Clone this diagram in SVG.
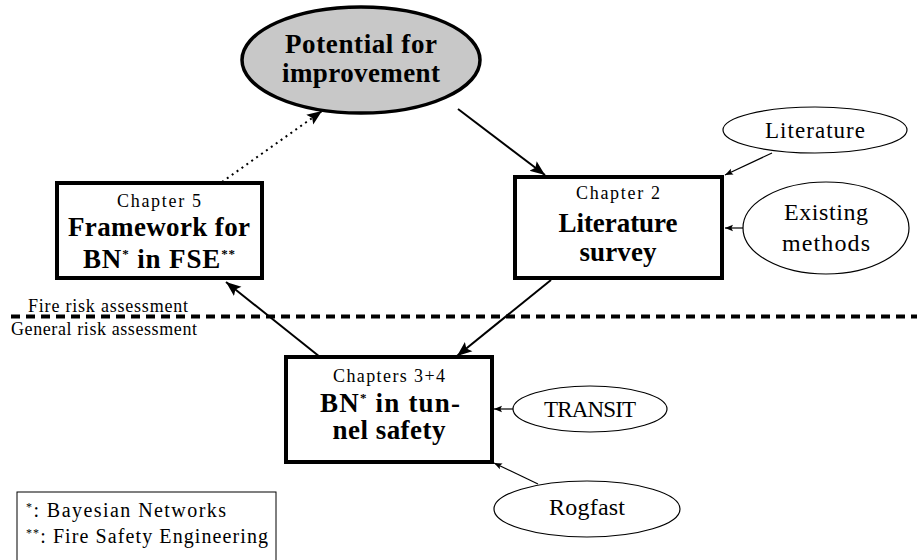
<svg xmlns="http://www.w3.org/2000/svg" width="917" height="560" viewBox="0 0 917 560">
<style>
text{fill:#000;text-anchor:middle}
.b{font-weight:bold}
.box{fill:#fff;stroke:#000;stroke-width:4}
.ell{fill:#fff;stroke:#000;stroke-width:1.2}
.c{stroke:#000;fill:none}
</style>
<defs>
<marker id="ah" viewBox="0 0 10 10" refX="10" refY="5" markerWidth="8" markerHeight="8" markerUnits="userSpaceOnUse" orient="auto"><path d="M0,1 L10,5 L0,9 L2,5 Z" fill="#000"/></marker>
<marker id="ahL" viewBox="0 0 10 10" refX="10" refY="5" markerWidth="15" markerHeight="15" markerUnits="userSpaceOnUse" orient="auto"><path d="M0,1 L10,5 L0,9 L2,5 Z" fill="#000"/></marker>
</defs>
<line x1="11" y1="316.5" x2="917" y2="316.5" stroke="#000" stroke-width="4" stroke-dasharray="9,6"/>
<text x="28" y="312" font-family="Liberation Serif" font-size="18" style="text-anchor:start" textLength="160">Fire risk assessment</text>
<text x="11" y="335" font-family="Liberation Serif" font-size="18" style="text-anchor:start" textLength="186">General risk assessment</text>
<g id="connectors">
<line class="c" x1="458" y1="109" x2="545" y2="175" stroke-width="2" marker-end="url(#ahL)"/>
<line class="c" x1="222" y1="182" x2="322" y2="111" stroke-width="2" stroke-dasharray="2,4" marker-end="url(#ahL)"/>
<line class="c" x1="551" y1="280" x2="457" y2="356" stroke-width="2" marker-end="url(#ahL)"/>
<line class="c" x1="320" y1="357" x2="226" y2="282" stroke-width="2" marker-end="url(#ahL)"/>
<line class="c" x1="772" y1="153" x2="725" y2="175" stroke-width="1.2" marker-end="url(#ah)"/>
<line class="c" x1="743" y1="228" x2="725" y2="228" stroke-width="1.2" marker-end="url(#ah)"/>
<line class="c" x1="513" y1="409" x2="494" y2="409" stroke-width="1.2" marker-end="url(#ah)"/>
<line class="c" x1="538" y1="484" x2="494" y2="463" stroke-width="1.2" marker-end="url(#ah)"/>
</g>
<g id="potential">
<ellipse cx="361" cy="60" rx="119" ry="53" fill="#c8c8c8" stroke="#000" stroke-width="3.5"/>
<text x="361" y="53" class="b" font-family="Liberation Serif" font-size="27" textLength="152">Potential for</text>
<text x="361" y="82" class="b" font-family="Liberation Serif" font-size="27" textLength="158">improvement</text>
</g>
<g id="ch5">
<rect class="box" x="57" y="183" width="205" height="95"/>
<text x="159" y="207" font-family="Liberation Serif" font-size="18" textLength="84">Chapter 5</text>
<text x="159" y="236" class="b" font-family="Liberation Serif" font-size="27" textLength="182">Framework for</text>
<text x="159" y="268" class="b" font-family="Liberation Serif" font-size="27" textLength="152">BN<tspan dy="-10" font-size="13">*</tspan><tspan dy="10"> in FSE</tspan><tspan dy="-10" font-size="13">**</tspan></text>
</g>
<g id="ch2">
<rect class="box" x="515" y="177" width="207" height="101"/>
<text x="618" y="199" font-family="Liberation Serif" font-size="18" textLength="84">Chapter 2</text>
<text x="618" y="232" class="b" font-family="Liberation Serif" font-size="27" textLength="119">Literature</text>
<text x="618" y="261" class="b" font-family="Liberation Serif" font-size="27" textLength="77">survey</text>
</g>
<g id="ch34">
<rect class="box" x="286" y="357" width="206" height="105"/>
<text x="389" y="382" font-family="Liberation Serif" font-size="18" textLength="112">Chapters 3+4</text>
<text x="390" y="412" class="b" font-family="Liberation Serif" font-size="27" textLength="140">BN<tspan dy="-10" font-size="13">*</tspan><tspan dy="10"> in tun-</tspan></text>
<text x="389" y="439" class="b" font-family="Liberation Serif" font-size="27" textLength="113">nel safety</text>
</g>
<g id="literature">
<ellipse class="ell" cx="815" cy="130" rx="92" ry="23"/>
<text x="815" y="138" font-family="Liberation Serif" font-size="23" textLength="100">Literature</text>
</g>
<g id="existing">
<ellipse class="ell" cx="826" cy="228" rx="83" ry="46"/>
<text x="826" y="220" font-family="Liberation Serif" font-size="24" textLength="84">Existing</text>
<text x="826" y="251" font-family="Liberation Serif" font-size="24" textLength="88">methods</text>
</g>
<g id="transit">
<ellipse class="ell" cx="590" cy="409" rx="77" ry="23"/>
<text x="590" y="417" font-family="Liberation Serif" font-size="23" textLength="92">TRANSIT</text>
</g>
<g id="rogfast">
<ellipse class="ell" cx="587" cy="509" rx="93" ry="28"/>
<text x="587" y="515" font-family="Liberation Serif" font-size="24" textLength="76">Rogfast</text>
</g>
<g id="legend">
<rect x="17" y="492" width="259" height="80" fill="#fff" stroke="#000" stroke-width="1"/>
<text x="26" y="517" font-family="Liberation Serif" font-size="20" style="text-anchor:start" textLength="200"><tspan dy="-6" font-size="12">*</tspan><tspan dy="6">:  Bayesian Networks</tspan></text>
<text x="26" y="543" font-family="Liberation Serif" font-size="20" style="text-anchor:start" textLength="242"><tspan dy="-6" font-size="12">**</tspan><tspan dy="6">:  Fire Safety Engineering</tspan></text>
</g>
</svg>
